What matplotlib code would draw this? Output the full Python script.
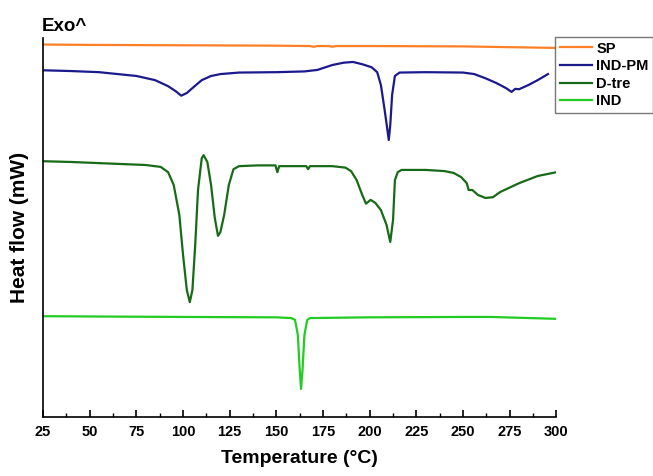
import matplotlib
matplotlib.use('Agg')
import matplotlib.pyplot as plt
from matplotlib.ticker import MultipleLocator

plt.rcParams['font.family'] = ['Liberation Sans', 'DejaVu Sans']
plt.rcParams['font.weight'] = 'bold'

# DSC traces (temperature in degC, heat flow in arbitrary mW offsets)
sp_t = [25, 50, 100, 150, 168, 170, 172, 178, 180, 182, 200, 250, 275, 300]
sp_q = [98.3, 98.2, 98.1, 98.0, 97.9, 97.7, 97.9, 97.9, 97.7, 97.9, 97.9, 97.8, 97.6, 97.4]

pm_t = [25, 40, 55, 65, 75, 85, 92, 96, 99, 102, 105, 110, 115, 120, 130, 150, 165,
        172, 180, 186, 191, 196, 201, 204, 206, 208, 209.5, 210.2, 211, 212, 213.5,
        216, 230, 250, 256, 262, 268, 273, 276, 278, 280, 285, 290, 295.5]
pm_q = [91.5, 91.3, 91.0, 90.5, 90.0, 88.9, 87.3, 86.0, 84.8, 85.5, 86.8, 88.9, 90.0,
        90.5, 90.9, 91.0, 91.2, 91.6, 92.9, 93.5, 93.7, 93.1, 92.3, 91.0, 87.6, 81.0,
        75.7, 73.1, 77.0, 85.0, 90.0, 90.9, 91.0, 90.9, 90.5, 89.4, 88.1, 86.8, 85.8,
        86.6, 86.5, 87.6, 88.9, 90.5]

dt_t = [25, 40, 60, 80, 88, 92, 95, 98, 100, 102, 103.6, 105, 106.5, 108, 110, 111,
        113, 115, 117, 118.7, 120, 122, 124.5, 127, 130, 140, 149.5, 150.5, 151.5, 166,
        167, 168, 180, 187, 190, 193, 196, 198, 200.5, 203, 206, 209, 211, 212.5, 213.5,
        215, 217, 230, 240, 245, 249, 252, 253, 255, 258, 262, 266, 270, 280, 290, 300]
dt_q = [67.5, 67.3, 66.9, 66.5, 66.0, 64.6, 61.2, 53.3, 42.7, 33.5, 30.3, 33.5, 45.4,
        59.9, 68.3, 69.1, 67.3, 61.2, 52.5, 47.8, 48.8, 53.3, 61.2, 65.4, 66.2, 66.4,
        66.4, 64.6, 66.2, 66.2, 65.4, 66.2, 66.2, 65.8, 64.9, 62.5, 58.6, 56.3, 57.3,
        56.5, 54.6, 50.7, 46.2, 52.0, 62.5, 64.6, 65.2, 65.2, 64.9, 64.4, 63.3, 61.7,
        59.9, 59.9, 58.6, 57.8, 58.0, 59.4, 61.7, 63.6, 64.6]

ind_t = [25, 60, 100, 150, 158, 160, 161.5, 162.5, 163.2, 164, 165, 166.5, 168, 200,
         250, 265, 300]
ind_q = [26.6, 26.5, 26.4, 26.3, 26.1, 25.6, 21.6, 12.4, 7.4, 12.4, 21.6, 25.6, 26.1,
         26.3, 26.4, 26.4, 25.9]

fig = plt.figure(figsize=(6.53, 4.76), dpi=100)
ax = fig.add_axes([0.066, 0.124, 0.786, 0.796])

ax.plot(sp_t, sp_q, color='#ff7f27', lw=1.6, label='SP')
ax.plot(pm_t, pm_q, color='#1a1a8c', lw=1.6, label='IND-PM')
ax.plot(dt_t, dt_q, color='#176b17', lw=1.6, label='D-tre')
ax.plot(ind_t, ind_q, color='#22cc22', lw=1.6, label='IND')

ax.set_xlim(25, 300)
ax.set_ylim(0, 100)
ax.xaxis.set_major_locator(MultipleLocator(25))
ax.xaxis.set_minor_locator(MultipleLocator(12.5))
ax.tick_params(axis='x', which='major', direction='in', length=5, width=1.2, labelsize=10.5, pad=6)
ax.tick_params(axis='x', which='minor', direction='in', length=3, width=1.0)
ax.set_yticks([])
for side in ['top', 'right']:
    ax.spines[side].set_visible(False)
for side in ['left', 'bottom']:
    ax.spines[side].set_linewidth(1.2)

ax.set_xlabel('Temperature (°C)', fontsize=14, fontweight='bold', labelpad=8)
ax.set_ylabel('Heat flow (mW)', fontsize=15, fontweight='bold', labelpad=10)
fig.text(0.064, 0.945, 'Exo^', fontsize=13.5, fontweight='bold', va='center', ha='left')

leg = ax.legend(loc='upper right', bbox_to_anchor=(1.0, 0.922), bbox_transform=fig.transFigure,
                fancybox=False, frameon=True, edgecolor='#555555', fontsize=10.5,
                handlelength=2.2, handletextpad=0.3, labelspacing=0.25, borderpad=0.3,
                borderaxespad=0.0)
leg.get_frame().set_linewidth(1.0)

fig.savefig('out.png', dpi=100)
